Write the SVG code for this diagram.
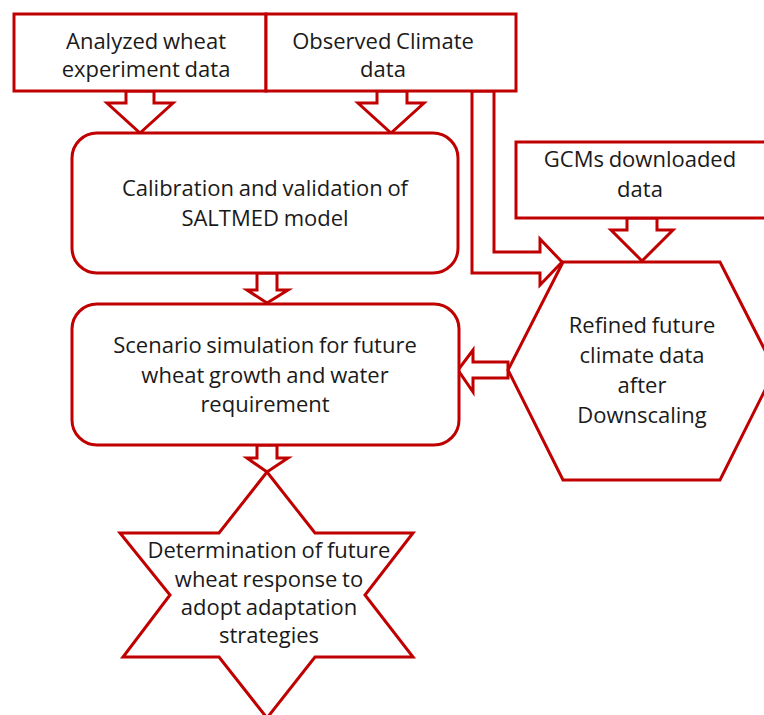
<svg xmlns="http://www.w3.org/2000/svg" width="764" height="715" viewBox="0 0 764 715">
<style>
.shape{fill:#ffffff;stroke:#c00000;stroke-width:3;stroke-linejoin:miter}
.arrow{fill:#ffffff;stroke:#c00000;stroke-width:3;stroke-linejoin:miter}
.label{font-family:"Open Sans","Noto Sans",sans-serif;font-size:22px;word-spacing:-1px;fill:#1a1a1a;text-anchor:middle}
</style>
<rect width="764" height="715" fill="#ffffff"/>
<g id="connectors">
<polygon class="arrow" points="126,91 126,103 107,103 140,133 173,103 154,103 154,91"/>
<polygon class="arrow" points="377,91 377,103 358,103 391,133 424,103 407,103 407,91"/>
<polygon class="arrow" points="627,218 627,230 611,230 642,261 673,230 657,230 657,218"/>
<polygon class="arrow" points="472,91 472,273 540,273 540,285 562,262 540,239 540,252 494,252 494,91"/>
<polygon class="arrow" points="257,273 257,290 247,290 267,303 288,290 277,290 277,273"/>
<polygon class="arrow" points="508,362 473,362 473,350 458,370 473,392 473,378 508,378"/>
<polygon class="arrow" points="257,445 257,458 247,458 267,472 288,458 277,458 277,445"/>
</g>
<g id="node-analyzed">
<rect class="shape" x="14" y="14" width="252" height="77"/>
<text class="label" x="146" y="49">Analyzed wheat</text>
<text class="label" x="146" y="77">experiment data</text>
</g>
<g id="node-observed">
<rect class="shape" x="266" y="14" width="250" height="77"/>
<text class="label" x="383" y="49">Observed Climate</text>
<text class="label" x="383" y="77">data</text>
</g>
<g id="node-gcms">
<rect class="shape" x="516" y="142" width="260" height="76"/>
<text class="label" x="640" y="167">GCMs downloaded</text>
<text class="label" x="640" y="197">data</text>
</g>
<g id="node-calibration">
<rect class="shape" x="72" y="133" width="386" height="140" rx="25" ry="25"/>
<text class="label" x="265" y="196">Calibration and validation of</text>
<text class="label" x="265" y="226">SALTMED model</text>
</g>
<g id="node-scenario">
<rect class="shape" x="72" y="304" width="387" height="141" rx="25" ry="25"/>
<text class="label" x="265" y="353">Scenario simulation for future</text>
<text class="label" x="265" y="383">wheat growth and water</text>
<text class="label" x="265" y="412">requirement</text>
</g>
<g id="node-refined">
<polygon class="shape" points="563,262 720,262 775,370 720,480 563,480 508,370"/>
<text class="label" x="642" y="333">Refined future</text>
<text class="label" x="642" y="363">climate data</text>
<text class="label" x="642" y="393">after</text>
<text class="label" x="642" y="423">Downscaling</text>
</g>
<g id="node-determination">
<polygon class="shape" points="267,472 315,533 413,533 365,595 413,657 315,657 267,718 219,657 123,657 170,595 120,533 219,533"/>
<text class="label" x="269" y="558">Determination of future</text>
<text class="label" x="269" y="587">wheat response to</text>
<text class="label" x="269" y="615">adopt adaptation</text>
<text class="label" x="269" y="643">strategies</text>
</g>
</svg>
